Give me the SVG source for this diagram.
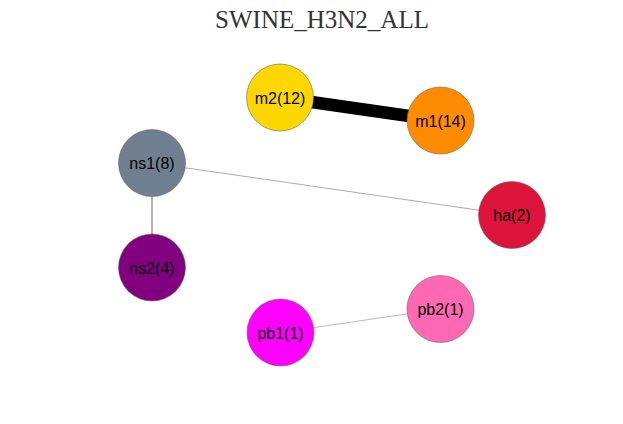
<svg xmlns="http://www.w3.org/2000/svg" width="623" height="424" viewBox="0 0 623 424">
<style>
.node circle{stroke:#666;stroke-width:0.6}
.node text{font-family:"Liberation Sans",Arial,sans-serif;font-size:16px;fill:#000;text-anchor:middle}
.title{font-family:"Liberation Serif","Times New Roman",serif;font-size:25px;fill:#333;text-anchor:middle}
</style>
<rect width="623" height="424" fill="#fff"/>
<text class="title" x="322" y="28">SWINE_H3N2_ALL</text>
<g id="connectors" fill="none">
<line x1="280" y1="97.5" x2="440.5" y2="120.5" stroke="#000" stroke-width="12.5"/>
<line x1="152" y1="163" x2="512" y2="215" stroke="#888" stroke-width="0.7"/>
<line x1="152" y1="163" x2="152" y2="267.5" stroke="#666" stroke-width="1"/>
<line x1="280.5" y1="332.5" x2="440.5" y2="309" stroke="#bbb" stroke-width="1"/>
</g>
<g id="m2" class="node"><circle cx="280" cy="97.5" r="33.5" fill="#FFD700"/><text x="280" y="103.5">m2(12)</text></g>
<g id="m1" class="node"><circle cx="440.5" cy="120.5" r="33.5" fill="#FF8C00"/><text x="440.5" y="126.5">m1(14)</text></g>
<g id="ns1" class="node"><circle cx="152" cy="163" r="33.5" fill="#708090"/><text x="152" y="169">ns1(8)</text></g>
<g id="ha" class="node"><circle cx="512" cy="215" r="33.5" fill="#DC143C"/><text x="512" y="221">ha(2)</text></g>
<g id="ns2" class="node"><circle cx="152" cy="267.5" r="33.5" fill="#800080"/><text x="152" y="273.5">ns2(4)</text></g>
<g id="pb2" class="node"><circle cx="440.5" cy="309" r="33.5" fill="#FF69B4"/><text x="440.5" y="315">pb2(1)</text></g>
<g id="pb1" class="node"><circle cx="280.5" cy="332.5" r="33.5" fill="#FF00FF"/><text x="280.5" y="338.5">pb1(1)</text></g>
</svg>
